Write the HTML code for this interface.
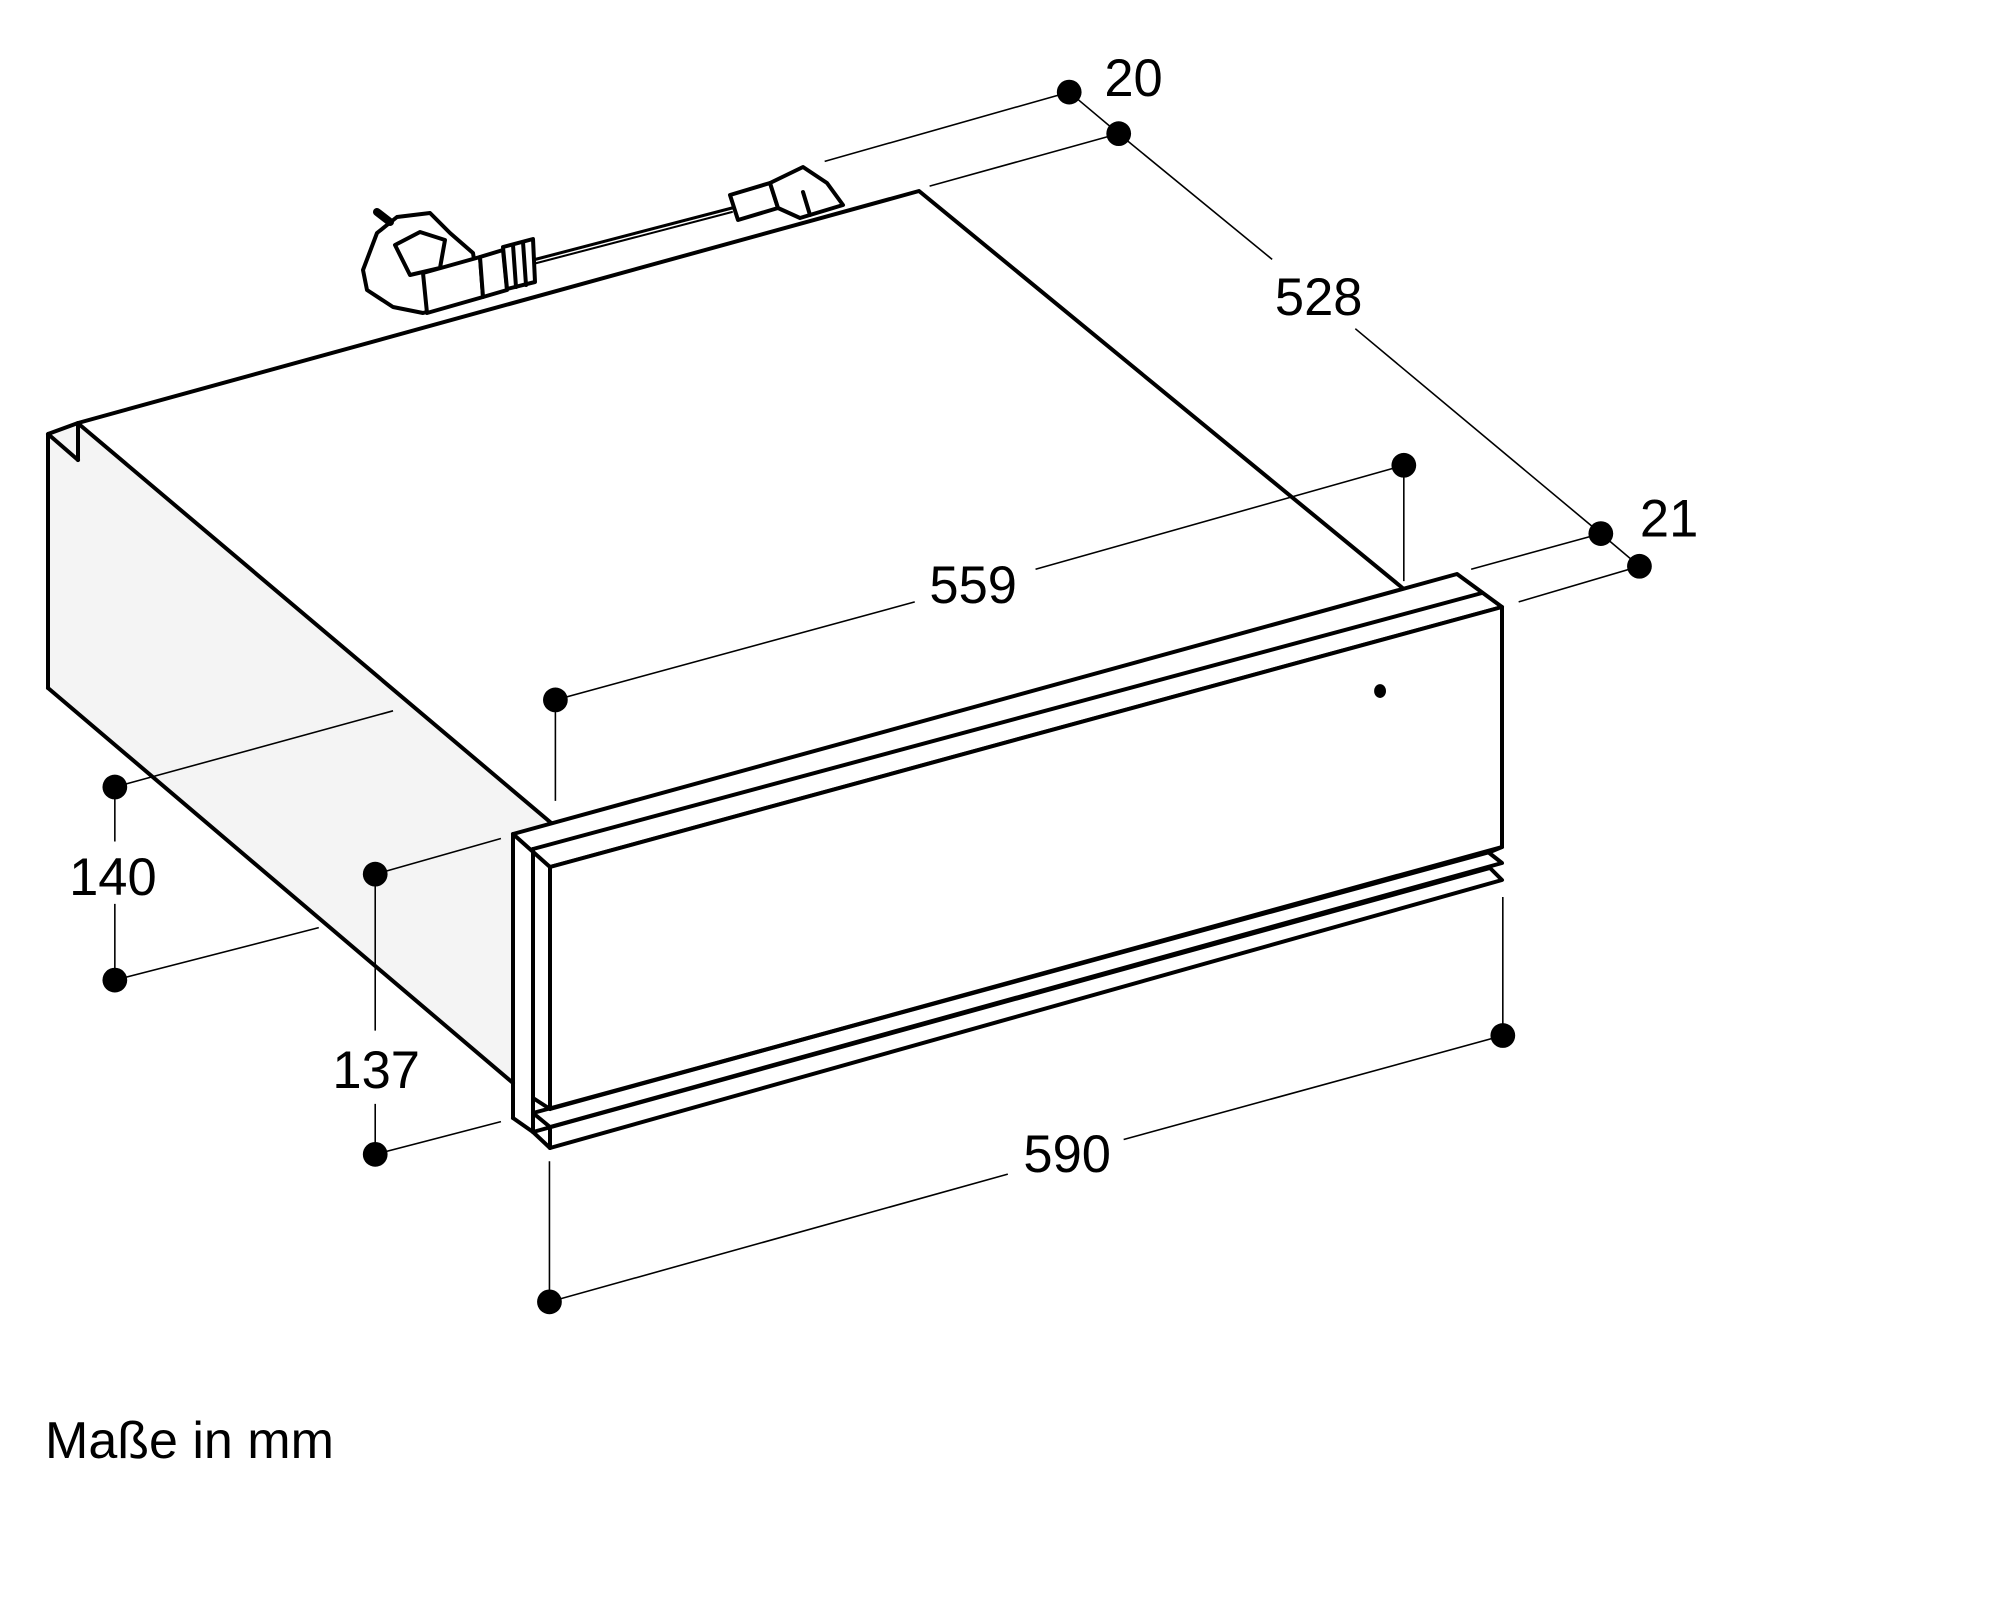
<!DOCTYPE html>
<html><head><meta charset="utf-8"><style>
html,body{margin:0;padding:0;background:#fff;}
svg{display:block;}
text{font-family:"Liberation Sans",sans-serif;fill:#000;}
</style></head><body>
<svg width="2000" height="1622" viewBox="0 0 2000 1622" xmlns="http://www.w3.org/2000/svg">
<rect width="2000" height="1622" fill="#fff"/>
<polygon points="48,434 78,424 556,826 513,834 513,1083 48,688" fill="#f4f4f4"/>
<g fill="none" stroke="#000" stroke-width="4" stroke-linejoin="round" stroke-linecap="round">
  <polyline points="48,688 48,434 78,423 919,191 1405,590"/>
  <line x1="78" y1="423" x2="78" y2="460"/>
  <line x1="48" y1="434" x2="78" y2="460"/>
  <line x1="80" y1="425" x2="556" y2="827"/>
  <line x1="48" y1="688" x2="513" y2="1083"/>
  <polygon points="513,834 1457,574 1502,607 550,867" fill="#fff"/>
  <line x1="533" y1="849" x2="1482" y2="593"/>
  <polygon points="550,867 1502,607 1502,847 550,1109" fill="#fff"/>
  <line x1="513" y1="834" x2="513" y2="1118"/>
  <line x1="533" y1="849" x2="533" y2="1132"/>
  <line x1="513" y1="1118" x2="533" y2="1132"/>
  <polyline points="1502,847 1490,852 533,1113 550,1127 1502,863 1488,852"/>
  <polyline points="533,1113 533,1098 550,1109"/>
  <polyline points="1490,868 1502,880 550,1148 533,1132 1490,868"/>
  <line x1="550" y1="1127" x2="550" y2="1148"/>
  <line x1="533" y1="260" x2="732" y2="208" stroke-width="3"/>
  <line x1="533" y1="264" x2="732" y2="212" stroke-width="2"/>
  <polygon points="730,195 770,183 778,208 738,220" fill="#fff"/>
  <polygon points="770,183 803,167 827,183 843,205 800,218 778,208" fill="#fff"/>
  <line x1="803" y1="192" x2="810" y2="215"/>
  <polygon points="363,270 377,233 397,217 430,213 450,233 473,253 480,297 423,313 393,307 367,290" fill="#fff"/>
  <polygon points="395,245 420,232 445,240 440,268 410,275" fill="#fff"/>
  <polygon points="423,273 480,257 483,297 427,313" fill="#fff"/>
  <polygon points="480,257 503,250 507,290 483,297" fill="#fff"/>
  <polygon points="503,247 533,239 535,282 507,289" fill="#fff"/>
  <line x1="513" y1="245" x2="516" y2="287"/>
  <line x1="523" y1="242" x2="526" y2="285"/>
  <line x1="377" y1="212" x2="390" y2="222" stroke-width="8"/>
</g>
<g transform="scale(0.99)">
<g stroke="#000" stroke-width="1.6" fill="none">
  <polyline points="833,163 1080,93 1130,135 1285,262"/>
  <line x1="939" y1="188" x2="1130" y2="135"/>
  <polyline points="1369,332 1617,539 1656,572 1534,608"/>
  <line x1="1486" y1="575" x2="1617" y2="539"/>
  <polyline points="1046,575 1418,470 1418,587"/>
  <polyline points="924,608 561,707 561,809"/>
  <polyline points="397,718 116,795 116,850"/>
  <polyline points="322,937 116,990 116,913"/>
  <polyline points="506,847 379,883 379,1041"/>
  <polyline points="506,1133 379,1166 379,1115"/>
  <polyline points="1135,1151 1518,1046 1518,906"/>
  <polyline points="1018,1186 555,1315 555,1173"/>
</g>
<g fill="#000">
  <circle cx="1080" cy="93" r="12.5"/><circle cx="1130" cy="135" r="12.5"/>
  <circle cx="1617" cy="539" r="12.5"/><circle cx="1656" cy="572" r="12.5"/>
  <circle cx="1418" cy="470" r="12.5"/><circle cx="561" cy="707" r="12.5"/>
  <circle cx="116" cy="795" r="12.5"/><circle cx="116" cy="990" r="12.5"/>
  <circle cx="379" cy="883" r="12.5"/><circle cx="379" cy="1166" r="12.5"/>
  <circle cx="1518" cy="1046" r="12.5"/><circle cx="555" cy="1315" r="12.5"/>
  <ellipse cx="1394" cy="698" rx="6" ry="7"/>
</g>
<g font-size="53" text-anchor="middle">
  <text x="1145" y="97">20</text>
  <text x="1332" y="318">528</text>
  <text x="1686" y="542">21</text>
  <text x="983" y="609">559</text>
  <text x="114" y="904">140</text>
  <text x="380" y="1099">137</text>
  <text x="1078" y="1184">590</text>
</g>
</g>
<text x="45" y="1458" font-size="52">Maße in mm</text>
</svg>
</body></html>
